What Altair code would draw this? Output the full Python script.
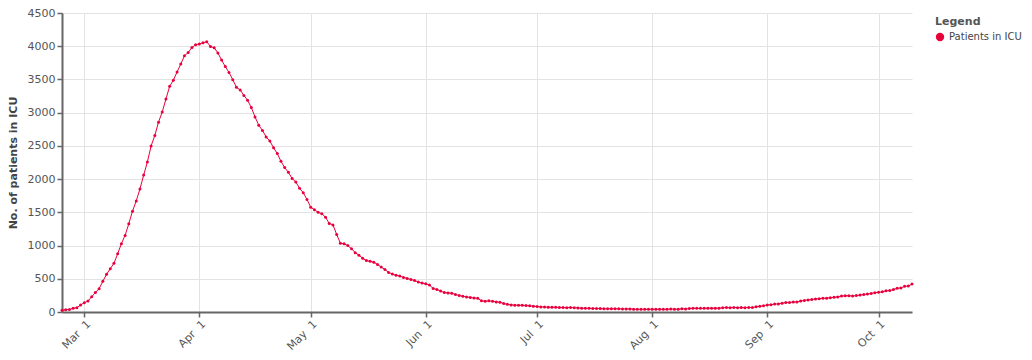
import altair as alt
import pandas as pd

start_date = "2020-02-24"
series_name = "Patients in ICU"

feb = [26, 35, 36, 56, 64, 105]
mar = [140, 166, 229, 295, 351, 462, 567, 650, 733, 877, 1028, 1153, 1328, 1518, 1672, 1851,
       2060, 2257, 2498, 2655, 2857, 3009, 3204, 3396, 3489, 3612, 3732, 3856, 3906, 3981, 4023]
apr = [4035, 4053, 4068, 3994, 3977, 3898, 3792, 3693, 3605, 3497, 3381, 3343, 3260, 3186, 3079,
       2936, 2812, 2733, 2635, 2573, 2471, 2384, 2267, 2173, 2102, 2009, 1956, 1863, 1795, 1694]
may = [1578, 1539, 1501, 1479, 1427, 1333, 1311, 1168, 1034, 1027, 999, 952, 893, 855, 808, 775,
       762, 749, 716, 676, 640, 595, 572, 553, 541, 521, 505, 489, 475, 450, 435]
jun = [424, 408, 353, 338, 316, 293, 287, 283, 263, 249, 236, 227, 220, 209, 207, 168, 163, 168,
       161, 152, 148, 127, 115, 107, 103, 103, 100, 97, 94, 87]
jul = [82, 77, 76, 72, 71, 71, 69, 68, 65, 69, 64, 62, 57, 57, 55, 54, 53, 51, 49, 49, 49, 48,
       49, 46, 47, 47, 41, 40, 40, 41, 42]
aug = [41, 42, 41, 40, 42, 45, 43, 42, 49, 45, 53, 56, 56, 55, 56, 58, 58, 58, 58, 63, 66, 64,
       69, 65, 66, 65, 69, 67, 79, 86, 94]
sep = [107, 109, 120, 121, 133, 142, 143, 150, 152, 164, 174, 182, 187, 197, 201, 207, 208, 215,
       222, 226, 239, 244, 246, 239, 247, 254, 264, 271, 280, 291]
octo = [297, 303, 319, 323, 337, 358, 362, 387, 390, 420]

icu = feb + mar + apr + may + jun + jul + aug + sep + octo
dates = pd.date_range(start_date, periods=len(icu), freq="D").strftime("%Y-%m-%dT00:00:00")
df = pd.DataFrame({"date": dates, "icu": icu, "series": series_name})

RED = "#e8003d"
FONT = "DejaVu Sans"

x_enc = alt.X(
    "date:T",
    title=None,
    axis=alt.Axis(labelExpr="timeFormat(datum.value, '%b') + '\u00a0\u00a0' + timeFormat(datum.value, '%-d')",
                  labelAngle=-45, tickCount="month", labelFontSize=11,
                  labelColor="#555", grid=True, gridColor="#e3e3e3", domainColor="#666",
                  domainWidth=2, tickColor="#666", tickWidth=1.5, tickSize=5, labelPadding=1),
)
y_enc = alt.Y(
    "icu:Q",
    title="No. of patients in ICU",
    scale=alt.Scale(domain=[0, 4500], nice=False),
    axis=alt.Axis(values=list(range(0, 4501, 500)), format="d", labelFontSize=11, labelColor="#555",
                  grid=True, gridColor="#e3e3e3", domainColor="#666", domainWidth=2,
                  tickColor="#666", tickWidth=1.5, tickSize=5, titleFontSize=11,
                  titleFontWeight="bold", titleColor="#444", titlePadding=9),
)

line = alt.Chart(df).mark_line(color=RED, strokeWidth=1).encode(x=x_enc, y=y_enc)
points = alt.Chart(df).mark_circle(size=9, opacity=1).encode(
    x=x_enc,
    y=y_enc,
    color=alt.Color(
        "series:N",
        scale=alt.Scale(domain=[series_name], range=[RED]),
        legend=alt.Legend(title="Legend", orient="right", offset=20, padding=3,
                          symbolType="circle", symbolSize=70, titleFontSize=11,
                          titleColor="#555", titleFontWeight="bold", labelFontSize=10,
                          labelColor="#444"),
    ),
)

chart = (
    alt.layer(line, points)
    .properties(width=850, height=299, autosize=alt.AutoSizeParams(type="none"),
                padding={"left": 54, "top": 5, "right": 112, "bottom": 40})
    .configure(font=FONT)
    .configure_view(stroke=None)
)

chart.save("out.html", embed_options={"renderer": "svg", "actions": False})
